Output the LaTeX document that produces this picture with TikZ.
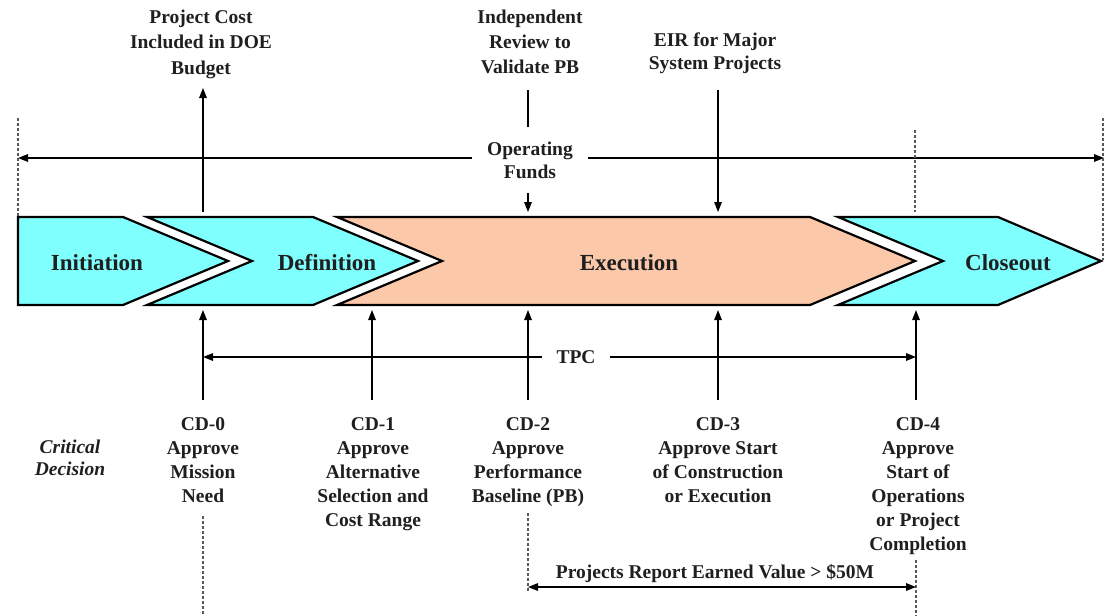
\documentclass[tikz,border=0pt]{standalone}
\usepackage{fontspec}
\setmainfont{Liberation Serif}
\usetikzlibrary{arrows.meta}
\definecolor{phasecyan}{RGB}{128,255,255}
\definecolor{phasesalmon}{RGB}{252,200,170}
\begin{document}
\begin{tikzpicture}[x=1pt,y=-1pt,
  lbl/.style={font=\fontsize{19.5}{24}\selectfont\bfseries, align=center, inner sep=0pt, text=black!88},
  phaselbl/.style={font=\fontsize{23}{27}\selectfont\bfseries, inner sep=0pt, text=black!88},
  phase/.style={draw=black, line width=2.2pt, line join=miter},
  tip/.style={-{Triangle[length=10pt,width=7.5pt]}},
  arr/.style={line width=1.4pt, tip},
  darr/.style={line width=1.4pt, {Triangle[length=10pt,width=7.5pt]}-{Triangle[length=10pt,width=7.5pt]}},
  dashln/.style={line width=1.1pt, dash pattern=on 3pt off 2pt, black!65}]
\useasboundingbox (0,0) rectangle (1104,616);

% phase chevrons
\path[phase, fill=phasecyan] (18,217) -- (123,217) -- (228,261) -- (123,305) -- (18,305) -- cycle;
\path[phase, fill=phasecyan] (147,217) -- (313,217) -- (418,261) -- (313,305) -- (147,305) -- (252,261) -- cycle;
\path[phase, fill=phasesalmon] (337,217) -- (810,217) -- (915,261) -- (810,305) -- (337,305) -- (442,261) -- cycle;
\path[phase, fill=phasecyan] (838,217) -- (998,217) -- (1101,261) -- (998,305) -- (838,305) -- (943,261) -- cycle;

\node[phaselbl] (init) at (97,263) {Initiation};
\node[phaselbl] (defn) at (327,263) {Definition};
\node[phaselbl] (exec) at (629,263) {Execution};
\node[phaselbl] (close) at (1008,263) {Closeout};

% top labels
\node[lbl, font=\fontsize{19.5}{25.5}\selectfont\bfseries] (pc) at (201,44) {Project Cost\\Included in DOE\\Budget};
\node[lbl, font=\fontsize{19.5}{25}\selectfont\bfseries] (ir) at (530,42) {Independent\\Review to\\Validate PB};
\node[lbl, font=\fontsize{19.5}{23}\selectfont\bfseries] (eir) at (715,53) {EIR for Major\\System Projects};
\node[lbl, font=\fontsize{19.5}{23}\selectfont\bfseries, inner xsep=15pt] (of) at (530,160) {Operating\\Funds};

% key coordinates
\coordinate (pcA) at (203,212);
\coordinate (pcB) at (203,88);
\coordinate (irA) at (528,90);
\coordinate (irB) at (528,127);
\coordinate (ofA) at (528,193);
\coordinate (ofB) at (528,212);
\coordinate (eirA) at (718,90);
\coordinate (eirB) at (718,212);
\coordinate (fundL) at (18,158);
\coordinate (fundR) at (1104,158);

\draw[arr] (pcA) -- (pcB);
\draw[line width=1.4pt] (irA) -- (irB);
\draw[arr] (ofA) -- (ofB);
\draw[arr] (eirA) -- (eirB);
\draw[arr] (of.west |- fundL) -- (fundL);
\draw[arr] (of.east |- fundR) -- (fundR);

% dashed markers top
\coordinate (dl1) at (18,118);  \coordinate (dl2) at (18,217);
\coordinate (dr1) at (1103,118); \coordinate (dr2) at (1103,260);
\coordinate (dm1) at (915,130); \coordinate (dm2) at (915,212);
\draw[dashln] (dl1) -- (dl2);
\draw[dashln] (dr1) -- (dr2);
\draw[dashln] (dm1) -- (dm2);

% critical decisions
\node[lbl, anchor=north] (cd0) at (203,417) {CD-0\\Approve\\Mission\\Need};
\node[lbl, anchor=north] (cd1) at (373,417) {CD-1\\Approve\\Alternative\\Selection and\\Cost Range};
\node[lbl, anchor=north] (cd2) at (528,417) {CD-2\\Approve\\Performance\\Baseline (PB)};
\node[lbl, anchor=north] (cd3) at (718,417) {CD-3\\Approve Start\\of Construction\\or Execution};
\node[lbl, anchor=north] (cd4) at (918,417) {CD-4\\Approve\\Start of\\Operations\\or Project\\Completion};
\node[lbl, font=\fontsize{19.5}{22}\selectfont\bfseries\itshape] (crit) at (70,458) {Critical\\Decision};

\foreach \n/\x in {0/203,1/372,2/528,3/718,4/916}{
  \coordinate (b\n) at (\x,400);
  \coordinate (t\n) at (\x,310);
  \draw[arr] (b\n) -- (t\n);
}

% TPC
\node[lbl, inner xsep=14pt] (tpc) at (576,357) {TPC};
\coordinate (tpcL) at (203,357);
\coordinate (tpcR) at (916,357);
\draw[arr] (tpc.west) -- (tpcL);
\draw[arr] (tpc.east) -- (tpcR);

% earned value
\coordinate (ev0a) at (203,516); \coordinate (ev0b) at (203,616);
\coordinate (ev2a) at (528,513); \coordinate (ev2b) at (528,592);
\coordinate (ev4a) at (916,560); \coordinate (ev4b) at (916,616);
\draw[dashln] (ev0a) -- (ev0b);
\draw[dashln] (ev2a) -- (ev2b);
\draw[dashln] (ev4a) -- (ev4b);
\coordinate (evL) at (528,587);
\coordinate (evR) at (916,587);
\draw[darr] (evL) -- (evR);
\node[lbl] (ev) at (715,574) {Projects Report Earned Value > \$50M};
\end{tikzpicture}
\end{document}
